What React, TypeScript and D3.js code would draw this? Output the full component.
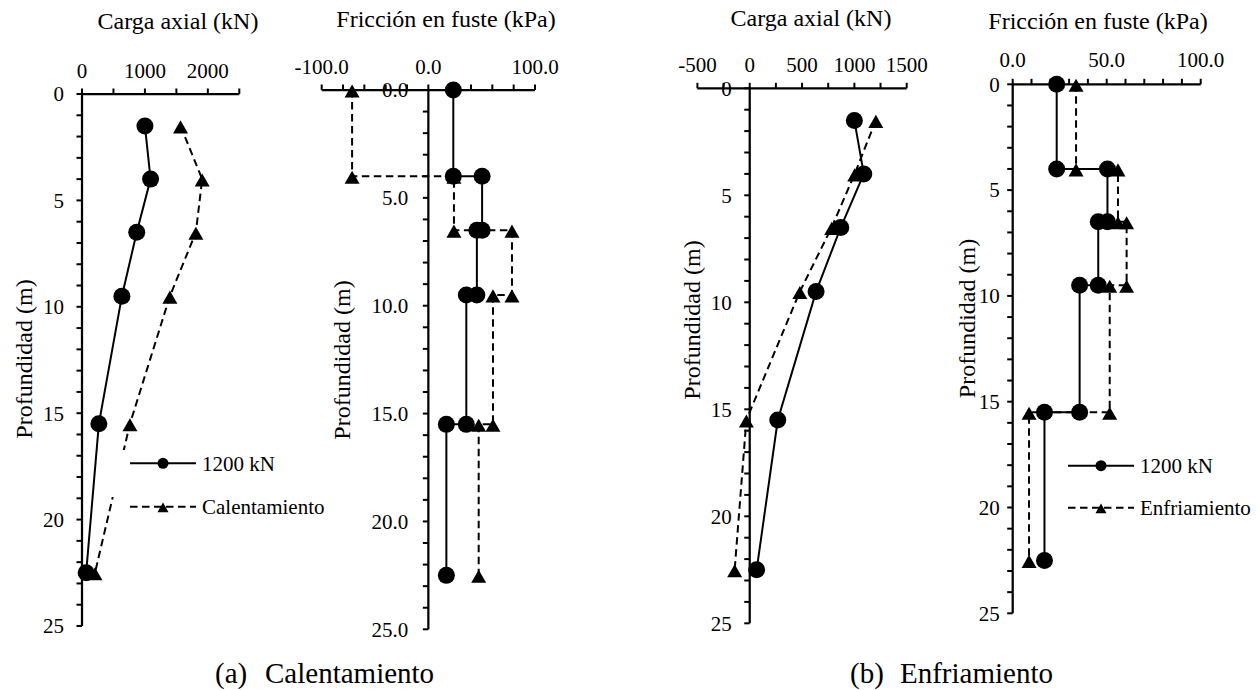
import React from "react";
import * as d3 from "d3";

// ---------- data ----------
const depthAxial = [1.5, 4, 6.5, 9.5, 15.5, 22.5];
const axialRef = [1000, 1090, 870, 634, 268, 66];
const axialHeat = [1566, 1910, 1810, 1397, 762, 206];
const axialCool = [1205, 1003, 783, 479, -32, -144];

const layerTop = [0, 4, 6.5, 9.5, 15.5];
const layerBottom = [4, 6.5, 9.5, 15.5, 22.5];
const fricRef = [23.4, 50.4, 45.5, 35.6, 16.9];
const fricHeat = [-71.5, 24, 78.4, 60.6, 47.2];
const fricCool = [33.7, 56.0, 60.6, 51.6, 8.7];

const labelsAxialHeat = [0, 1000, 2000];
const labelsFricHeat = [-100, 0, 100];
const labelsAxialCool = [-500, 0, 500, 1000, 1500];
const labelsFricCool = [0, 50, 100];
const depthLabels = [0, 5, 10, 15, 20, 25];

const seriesRefName = "1200 kN";
const heatName = "Calentamiento";
const coolName = "Enfriamiento";

const FONT = "Liberation Serif, Tinos, DejaVu Serif, Times New Roman, serif";
const txt = { fontFamily: FONT };

type Pt = [number, number];

const profile = (vals: number[]): Pt[] => vals.map((v, i) => [v, depthAxial[i]]);
const steps = (vals: number[]): Pt[] => {
  const out: Pt[] = [];
  vals.forEach((v, i) => {
    out.push([v, layerTop[i]]);
    out.push([v, layerBottom[i]]);
  });
  return out;
};

interface PanelCfg {
  xDomain: [number, number];
  xRange: [number, number];
  yRange: [number, number];
  xStep: number;
  xLabels: number[];
  xFmt: (v: number) => string;
  yFmt: (v: number) => string;
  yLabelGap: number;
  xLabelBase: number;
  title: string;
  titlePos: [number, number];
  yTitlePos: [number, number];
  ref: Pt[];
  other: Pt[];
  legend?: { lineX: number; y1: number; y2: number; otherName: string; box: [number, number, number, number] };
}

const tri = (s: number) => `M0,${-s * 0.75}L${s},${s}L${-s},${s}Z`;

const Panel = ({ c }: { c: PanelCfg }) => {
  const x = d3.scaleLinear().domain(c.xDomain).range(c.xRange);
  const y = d3.scaleLinear().domain([0, 25]).range(c.yRange);
  const line = d3.line<Pt>().x((d) => x(d[0])).y((d) => y(d[1]));
  const xTicks = d3.range(c.xDomain[0], c.xDomain[1] + c.xStep / 2, c.xStep);
  const yTicks = d3.range(0, 26, 1);
  const x0 = x(0);
  const y0 = y(0);
  return (
    <g>
      <text x={c.titlePos[0]} y={c.titlePos[1]} fontSize={24} textAnchor="middle" style={txt}>
        {c.title}
      </text>
      {c.xLabels.map((v) => (
        <text key={"xl" + v} x={x(v)} y={c.xLabelBase} fontSize={21} textAnchor="middle" style={txt}>
          {c.xFmt(v)}
        </text>
      ))}
      {depthLabels.map((v) => (
        <text key={"yl" + v} x={x0 - c.yLabelGap} y={y(v)} dy="0.35em" fontSize={21} textAnchor="end" style={txt}>
          {c.yFmt(v)}
        </text>
      ))}
      <text
        transform={`translate(${c.yTitlePos[0]},${c.yTitlePos[1]}) rotate(-90)`}
        fontSize={24}
        textAnchor="middle"
        style={txt}
      >
        Profundidad (m)
      </text>
      {/* axes */}
      <line x1={x(c.xDomain[0])} x2={x(c.xDomain[1])} y1={y0} y2={y0} stroke="#000" strokeWidth={2.25} />
      {xTicks.map((v) => (
        <line key={"xt" + v} x1={x(v)} x2={x(v)} y1={y0} y2={y0 - 5.5} stroke="#000" strokeWidth={2} />
      ))}
      <line x1={x0} x2={x0} y1={y0} y2={y(25)} stroke="#000" strokeWidth={2.25} />
      {yTicks.map((v) => (
        <line key={"yt" + v} x1={x0} x2={x0 - 5.5} y1={y(v)} y2={y(v)} stroke="#000" strokeWidth={2} />
      ))}
      {/* other series (dashed, triangles) */}
      <path d={line(c.other) || ""} fill="none" stroke="#000" strokeWidth={2} strokeDasharray="7.5,4.5" />
      {c.other.map((d, i) => (
        <path key={"tr" + i} d={tri(7.5)} transform={`translate(${x(d[0])},${y(d[1])})`} fill="#000" />
      ))}
      {/* reference series (solid, circles) */}
      <path d={line(c.ref) || ""} fill="none" stroke="#000" strokeWidth={2} />
      {c.ref.map((d, i) => (
        <circle key={"ci" + i} cx={x(d[0])} cy={y(d[1])} r={8.5} fill="#000" />
      ))}
      {c.legend && (
        <g>
          <rect x={c.legend.box[0]} y={c.legend.box[1]} width={c.legend.box[2]} height={c.legend.box[3]} fill="#fff" />
          <line x1={c.legend.lineX} x2={c.legend.lineX + 66} y1={c.legend.y1} y2={c.legend.y1} stroke="#000" strokeWidth={2} />
          <circle cx={c.legend.lineX + 33} cy={c.legend.y1} r={5.5} fill="#000" />
          <text x={c.legend.lineX + 72} y={c.legend.y1} dy="0.35em" fontSize={21} style={txt}>
            {seriesRefName}
          </text>
          <line
            x1={c.legend.lineX}
            x2={c.legend.lineX + 66}
            y1={c.legend.y2}
            y2={c.legend.y2}
            stroke="#000"
            strokeWidth={2}
            strokeDasharray="7.5,4.5"
          />
          <path d={tri(5.5)} transform={`translate(${c.legend.lineX + 33},${c.legend.y2})`} fill="#000" />
          <text x={c.legend.lineX + 72} y={c.legend.y2} dy="0.35em" fontSize={21} style={txt}>
            {c.legend.otherName}
          </text>
        </g>
      )}
    </g>
  );
};

const hyphen = (s: string) => s.replace("\u2212", "-");
const fInt = (v: number) => hyphen(d3.format("d")(v));
const f1 = (v: number) => hyphen(d3.format(".1f")(v));

const panels: PanelCfg[] = [
  {
    xDomain: [0, 2500],
    xRange: [82, 239.3],
    yRange: [94, 626],
    xStep: 500,
    xLabels: labelsAxialHeat,
    xFmt: fInt,
    yFmt: fInt,
    yLabelGap: 18,
    xLabelBase: 78,
    title: "Carga axial (kN)",
    titlePos: [178, 28.5],
    yTitlePos: [31.5, 359],
    ref: profile(axialRef),
    other: profile(axialHeat),
    legend: { lineX: 130, y1: 463.3, y2: 506.7, otherName: heatName, box: [107, 450, 230, 47] },
  },
  {
    xDomain: [-100, 100],
    xRange: [321.7, 535],
    yRange: [90, 629.3],
    xStep: 20,
    xLabels: labelsFricHeat,
    xFmt: f1,
    yFmt: f1,
    yLabelGap: 20,
    xLabelBase: 74,
    title: "Fricción en fuste (kPa)",
    titlePos: [446, 27],
    yTitlePos: [350, 360],
    ref: steps(fricRef),
    other: steps(fricHeat),
  },
  {
    xDomain: [-500, 1500],
    xRange: [697.4, 906.7],
    yRange: [88.3, 623.3],
    xStep: 250,
    xLabels: labelsAxialCool,
    xFmt: fInt,
    yFmt: fInt,
    yLabelGap: 18,
    xLabelBase: 71.7,
    title: "Carga axial (kN)",
    titlePos: [811, 26],
    yTitlePos: [700, 320],
    ref: profile(axialRef),
    other: profile(axialCool),
  },
  {
    xDomain: [0, 100],
    xRange: [1012.7, 1200.7],
    yRange: [84.3, 613.3],
    xStep: 10,
    xLabels: labelsFricCool,
    xFmt: f1,
    yFmt: fInt,
    yLabelGap: 13,
    xLabelBase: 66.7,
    title: "Fricción en fuste (kPa)",
    titlePos: [1098, 29.3],
    yTitlePos: [975, 318.5],
    ref: steps(fricRef),
    other: steps(fricCool),
    legend: { lineX: 1068, y1: 465.7, y2: 507.7, otherName: coolName, box: [1058, 452, 190, 47] },
  },
];

export default function App() {
  return (
    <svg
      width={1260}
      height={690}
      style={{ position: "absolute", left: 0, top: 0, background: "#fff" }}
    >
      <rect x={0} y={0} width={1260} height={690} fill="#fff" />
      {panels.map((p, i) => (
        <Panel key={i} c={p} />
      ))}
      <text x={215} y={683} fontSize={29} style={txt}>
        (a)
      </text>
      <text x={265} y={683} fontSize={29} style={txt}>
        {heatName}
      </text>
      <text x={850} y={683} fontSize={29} style={txt}>
        (b)
      </text>
      <text x={900} y={683} fontSize={29} style={txt}>
        {coolName}
      </text>
    </svg>
  );
}
